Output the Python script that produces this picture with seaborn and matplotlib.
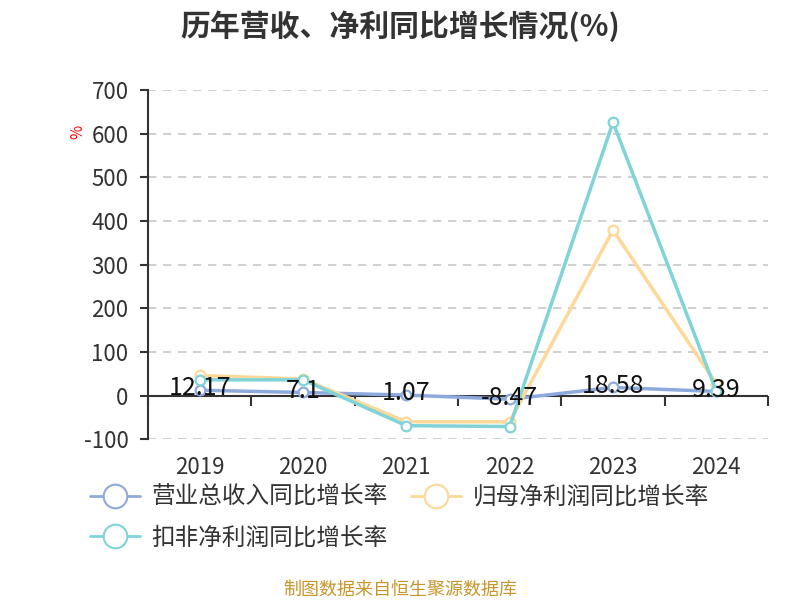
import pandas as pd
import matplotlib
matplotlib.use("Agg")
import matplotlib.pyplot as plt
from matplotlib.lines import Line2D
import seaborn as sns

# Datos
years = ["2019", "2020", "2021", "2022", "2023", "2024"]
revenue_growth = [12.17, 7.1, 1.07, -8.47, 18.58, 9.39]
parent_profit_growth = [46, 38, -60, -60, 379, 27]
deducted_profit_growth = [36, 36, -69, -71, 626, 10]

series_names = ["营业总收入同比增长率", "归母净利润同比增长率", "扣非净利润同比增长率"]
colors = ["#8eaadc", "#fdd898", "#80d4d8"]
y_ticks = [-100, 0, 100, 200, 300, 400, 500, 600, 700]

sns.set_theme(style="white")
plt.rcParams["font.family"] = ["Noto Sans CJK SC", "DejaVu Sans"]

df = pd.DataFrame({
    "year": years * 3,
    "value": revenue_growth + parent_profit_growth + deducted_profit_growth,
    "serie": [series_names[0]] * 6 + [series_names[1]] * 6 + [series_names[2]] * 6,
})

fig = plt.figure(figsize=(8, 6), dpi=100)
ax = fig.add_axes([0.185, 0.268, 0.775, 0.582])

sns.lineplot(data=df, x="year", y="value", hue="serie", palette=colors,
             hue_order=series_names, linewidth=2.5, marker="o", markersize=7,
             markerfacecolor="white", markeredgewidth=1.6, legend=False, ax=ax,
             zorder=3)
# borde del marcador con el color de la serie
for line, c in zip(ax.get_lines(), colors):
    line.set_markeredgecolor(c)

ax.set_xlim(-0.5, 5.5)
ax.set_ylim(-100, 700)
ax.set_yticks(y_ticks)
ax.set_yticklabels([str(v) for v in y_ticks], fontsize=16, color="#333333")
ax.yaxis.grid(True, linestyle=(0, (5, 4)), color="#c8c8c8", linewidth=1.2)
ax.set_xlabel("")
ax.set_ylabel("")

for s in ["top", "right", "bottom"]:
    ax.spines[s].set_visible(False)
ax.spines["left"].set_color("#333333")
ax.spines["left"].set_linewidth(1.5)
ax.tick_params(axis="y", length=6, width=1.5, color="#333333", left=True, pad=8)

# etiquetas de categoría debajo del gráfico
ax.set_xticks(range(len(years)))
ax.set_xticklabels(years, fontsize=16, color="#333333")
ax.tick_params(axis="x", length=0, pad=12)

# línea del cero con marcas entre categorías
ax.axhline(0, color="#333333", linewidth=1.5, zorder=2)
zero_ax = ax.secondary_xaxis(100 / 800)
zero_ax.set_xticks([i - 0.5 for i in range(len(years) + 1)])
zero_ax.set_xticklabels([])
zero_ax.tick_params(axis="x", length=7, width=1.5, color="#333333", direction="out")
for s in zero_ax.spines.values():
    s.set_visible(False)

# etiquetas de valores de ingresos
for i, v in enumerate(revenue_growth):
    ax.text(i, v + 4, f"{v:g}", ha="center", va="center", fontsize=18,
            color="#111111", zorder=5)

ax.text(-0.113, 0.88, "%", transform=ax.transAxes, rotation=90, color="red",
        fontsize=11, ha="center", va="center")

fig.suptitle("历年营收、净利同比增长情况(%)", fontsize=21.5, fontweight="bold",
             color="#333333", y=0.982)

handles = [Line2D([0], [0], color=c, linewidth=2, marker="o", markersize=17,
                  markerfacecolor="white", markeredgewidth=1.5, markeredgecolor=c)
           for c in colors]
order = [0, 2, 1]
fig.legend([handles[i] for i in order], [series_names[i] for i in order],
           loc="upper left", bbox_to_anchor=(0.098, 0.21), borderpad=0,
           ncol=2, frameon=False, fontsize=17, handlelength=2.1,
           columnspacing=1.0, handletextpad=0.5, labelspacing=0.75,
           labelcolor="#333333")

fig.text(0.5, 0.017, "制图数据来自恒生聚源数据库", ha="center", va="center",
         fontsize=13, color="#c8962a")

fig.savefig("out.png", dpi=100)
plt.close(fig)
